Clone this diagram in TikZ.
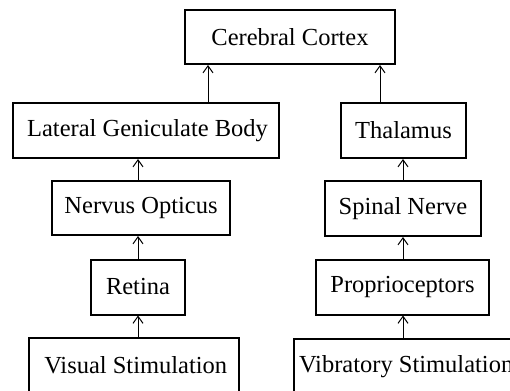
\documentclass[tikz,border=0pt]{standalone}
\usepackage{fontspec}
\setmainfont{Liberation Serif}
\usetikzlibrary{arrows.meta}
\begin{document}
\begin{tikzpicture}[x=1pt,y=-1pt,
  box/.style={draw=black,line width=2pt,inner sep=0pt,minimum width=#1,minimum height=55pt,
    font=\fontsize{24.5}{28}\selectfont,anchor=center},
  arr/.style={line width=1pt,-{Straight Barb[length=7pt,width=10pt,line width=1pt]}}]
\useasboundingbox (0,0) rectangle (510,390);
\clip (0,0) rectangle (510,390);
\node[box=210pt,minimum height=54pt] (cortex) at (290,37) {Cerebral Cortex};
\node[box=266pt] (lgb) at (146,130.5) {\hspace*{3pt}Lateral Geniculate Body};
\node[box=125pt] (thal) at (403.5,130.5) {Thalamus};
\node[box=178pt,minimum height=54pt] (nerv) at (141,208) {Nervus Opticus};
\node[box=156pt] (spinal) at (403,208.5) {Spinal Nerve};
\node[box=94pt] (retina) at (138,287) {Retina};
\node[box=173pt] (prop) at (402.5,287) {Proprioceptors};
\node[box=210pt] (vis) at (134,365.5) {\hspace*{3.5pt}Visual Stimulation};
\node[box=0pt,inner xsep=5pt,anchor=north west] (vib) at (293,338) {Vibratory Stimulation};
\draw[arr] (vis.north -| retina) -- (retina.south);
\draw[arr] (retina.north) -- (nerv.south -| retina);
\draw[arr] (nerv.north -| retina) -- (lgb.south -| retina);
\draw[arr] ([xshift=62pt]lgb.north) -- ([xshift=62pt]lgb.north |- cortex.south);
\draw[arr] (vib.north -| spinal) -- (prop.south -| spinal);
\draw[arr] (prop.north -| spinal) -- (spinal.south);
\draw[arr] (spinal.north) -- (thal.south -| spinal);
\draw[arr] ([xshift=-23.5pt]thal.north) -- ([xshift=-23.5pt]thal.north |- cortex.south);
\end{tikzpicture}
\end{document}
